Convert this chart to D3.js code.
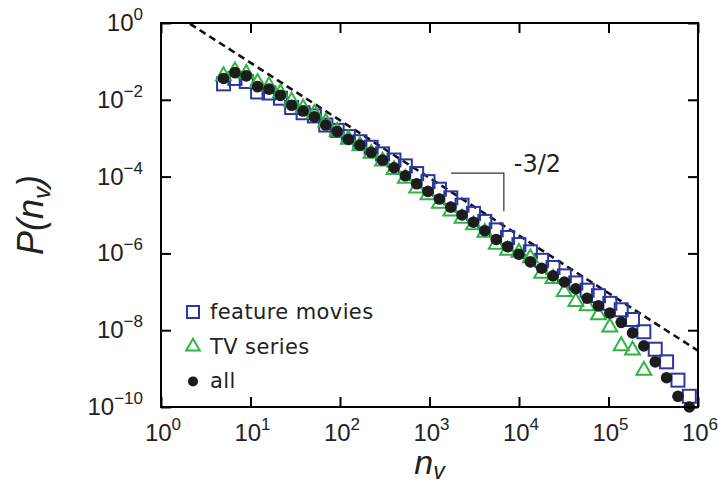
<!DOCTYPE html>
<html>
<head>
<meta charset="utf-8">
<script src="https://cdn.jsdelivr.net/npm/d3@7"></script>
<style>
  body { margin: 0; background: #fff; }
  text { fill: #222; }
</style>
</head>
<body>
<div id="chart"></div>
<script>
// bin centres (n_v) shared by all three series
var nv = [5.0, 6.7, 8.97, 12.0, 16.1, 21.6, 28.8, 38.7, 51.8, 69.4,
  92.9, 124, 167, 223, 299, 401, 537, 719, 962, 1290,
  1730, 2310, 3100, 4150, 5560, 7450, 9980, 13400, 17900, 24000,
  32100, 43100, 57700, 77300, 103500, 138700, 185500, 248300, 332700, 445700,
  597000, 800000];

// feature movies (squares)
var pMovies = [2.6e-2, 3.6e-2, 3.0e-2, 1.6e-2, 1.5e-2, 1.1e-2, 6.3e-3, 4.6e-3, 3.8e-3, 2.2e-3,
  1.6e-3, 1.1e-3, 8.1e-4, 5.8e-4, 3.9e-4, 2.7e-4, 1.9e-4, 1.2e-4, 7.4e-5, 4.7e-5,
  2.8e-5, 1.8e-5, 1.1e-5, 6.8e-6, 4.1e-6, 2.6e-6, 1.7e-6, 1.1e-6, 6.6e-7, 4.3e-7,
  2.6e-7, 1.7e-7, 1.1e-7, 7.9e-8, 5.0e-8, 3.4e-8, 1.9e-8, 9.1e-9, 3.2e-9, 1.5e-9,
  5.0e-10, 1.9e-10];

// TV series (triangles), first 38 bins only
var pTV = [4.2e-2, 5.6e-2, 4.8e-2, 2.8e-2, 2.3e-2, 1.5e-2, 9.1e-3, 6.0e-3, 4.4e-3, 2.6e-3,
  1.5e-3, 9.3e-4, 6.3e-4, 4.0e-4, 2.5e-4, 1.5e-4, 8.9e-5, 5.0e-5, 3.3e-5, 2.0e-5,
  1.26e-5, 8.1e-6, 5.5e-6, 3.5e-6, 1.7e-6, 1.2e-6, 1.05e-6, 7.6e-7, 3.0e-7, 2.2e-7,
  1.0e-7, 5.5e-8, 4.3e-8, 2.5e-8, 1.2e-8, 3.9e-9, 3.0e-9, 8.9e-10];

// all (filled circles)
var pAll = [3.6e-2, 5.1e-2, 4.2e-2, 2.2e-2, 1.9e-2, 1.3e-2, 7.2e-3, 5.1e-3, 3.6e-3, 2.2e-3,
  1.5e-3, 9.3e-4, 6.6e-4, 4.3e-4, 2.7e-4, 1.7e-4, 1.05e-4, 6.5e-5, 4.1e-5, 2.6e-5,
  1.6e-5, 1.0e-5, 6.5e-6, 3.9e-6, 2.3e-6, 1.5e-6, 9.5e-7, 6.0e-7, 4.1e-7, 2.6e-7,
  1.8e-7, 1.2e-7, 6.8e-8, 4.3e-8, 2.8e-8, 1.6e-8, 8.5e-9, 3.9e-9, 1.5e-9, 5.8e-10,
  1.9e-10, 1.0e-10];

var xTicks = [0, 1, 2, 3, 4, 5, 6];        // exponents of 10
var yTicks = [0, -2, -4, -6, -8, -10];
var legendNames = ["feature movies", "TV series", "all"];

// power-law guide P ~ n^(-3/2)
var guideSlope = -1.5, guideAmp = 2.92;
var bracketX = [1740, 6770], bracketY = [1.23e-4, 1.26e-5];

var W = 718, H = 486;
var margin = {top: 23, right: 20, bottom: 79, left: 161};
var width = W - margin.left - margin.right,
    height = H - margin.top - margin.bottom;

var svg = d3.select("#chart").append("svg")
  .attr("width", W).attr("height", H);

var g = svg.append("g")
  .attr("transform", "translate(" + margin.left + "," + margin.top + ")");

var x = d3.scaleLog().domain([1, 1e6]).range([0, width]);
var y = d3.scaleLog().domain([1e-10, 1]).range([height, 0]);

svg.append("defs").append("clipPath").attr("id", "clip")
  .append("rect").attr("width", width).attr("height", height);

// dashed guide line
var guide = [1, 1e6].map(function(n) { return [n, guideAmp * Math.pow(n, guideSlope)]; });
g.append("path")
  .attr("clip-path", "url(#clip)")
  .attr("d", d3.line().x(d => x(d[0])).y(d => y(d[1]))(guide))
  .attr("fill", "none")
  .attr("stroke", "#111")
  .attr("stroke-width", 2.6)
  .attr("stroke-dasharray", "7,4.5");

// slope bracket
g.append("path")
  .attr("d", "M" + x(bracketX[0]) + "," + y(bracketY[0]) +
             "H" + x(bracketX[1]) + "V" + y(bracketY[1]))
  .attr("fill", "none").attr("stroke", "#333").attr("stroke-width", 1.2);
g.append("text")
  .attr("x", x(bracketX[1]) + 10).attr("y", y(bracketY[0]) - 1)
  .style("font-family", "DejaVu Sans, sans-serif")
  .style("font-size", "24px")
  .text("-3/2");

var blue = "#2c37a0", green = "#2db443", black = "#1c1c1c";
var sq = 13;

// squares
g.selectAll(".sq").data(pMovies).enter().append("rect")
  .attr("x", (d, i) => x(nv[i]) - sq / 2)
  .attr("y", d => y(d) - sq / 2)
  .attr("width", sq).attr("height", sq)
  .attr("fill", "none").attr("stroke", blue).attr("stroke-width", 2);

// triangles
var tri = d3.symbol().type(d3.symbolTriangle).size(95);
g.selectAll(".tri").data(pTV).enter().append("path")
  .attr("d", tri)
  .attr("transform", (d, i) => "translate(" + x(nv[i]) + "," + y(d) + ")")
  .attr("fill", "none").attr("stroke", green).attr("stroke-width", 2);

// circles
g.selectAll(".dot").data(pAll).enter().append("circle")
  .attr("cx", (d, i) => x(nv[i]))
  .attr("cy", d => y(d))
  .attr("r", 5.8)
  .attr("fill", black);

// frame
g.append("rect").attr("width", width).attr("height", height)
  .attr("fill", "none").attr("stroke", "#000").attr("stroke-width", 2);

// inward ticks on all four sides
var tk = 10;
g.append("g").attr("transform", "translate(0," + height + ")")
  .call(d3.axisBottom(x).tickValues(xTicks.map(e => Math.pow(10, e))).tickSize(-tk).tickFormat(""))
  .call(a => a.select(".domain").remove())
  .selectAll("line").attr("stroke-width", 2);
g.append("g")
  .call(d3.axisTop(x).tickValues(xTicks.map(e => Math.pow(10, e))).tickSize(-tk).tickFormat(""))
  .call(a => a.select(".domain").remove())
  .selectAll("line").attr("stroke-width", 2);
g.append("g")
  .call(d3.axisLeft(y).tickValues(yTicks.map(e => Math.pow(10, e))).tickSize(-tk).tickFormat(""))
  .call(a => a.select(".domain").remove())
  .selectAll("line").attr("stroke-width", 2);
g.append("g").attr("transform", "translate(" + width + ",0)")
  .call(d3.axisRight(y).tickValues(yTicks.map(e => Math.pow(10, e))).tickSize(-tk).tickFormat(""))
  .call(a => a.select(".domain").remove())
  .selectAll("line").attr("stroke-width", 2);

var labFont = "Liberation Sans, Arial, sans-serif";

function powLabel(sel, e) {
  sel.append("tspan").text("10");
  sel.append("tspan").attr("dy", -11).style("font-size", "17px")
    .text(e < 0 ? "\u2212" + (-e) : e);
}

xTicks.forEach(function(e) {
  var t = g.append("text")
    .attr("x", x(Math.pow(10, e)) + 2)
    .attr("y", height + 34)
    .attr("text-anchor", "middle")
    .style("font-family", labFont).style("font-size", "24px");
  powLabel(t, e);
});

yTicks.forEach(function(e) {
  var t = g.append("text")
    .attr("x", -18)
    .attr("y", y(Math.pow(10, e)) + 8)
    .attr("text-anchor", "end")
    .style("font-family", labFont).style("font-size", "24px");
  powLabel(t, e);
});

// axis titles
var xt = g.append("text")
  .attr("x", width / 2).attr("y", height + 67)
  .attr("text-anchor", "middle")
  .style("font-family", labFont).style("font-size", "34px").style("font-style", "italic");
xt.append("tspan").text("n");
xt.append("tspan").attr("dy", 5).style("font-size", "23px").text("v");

var yt = g.append("text")
  .attr("transform", "translate(" + (43 - margin.left) + "," + (215 - margin.top) + ") rotate(-90)")
  .attr("text-anchor", "middle")
  .style("font-family", labFont).style("font-size", "36px").style("font-style", "italic");
yt.append("tspan").text("P(n");
yt.append("tspan").attr("dy", 7).style("font-size", "24px").text("v");
yt.append("tspan").attr("dy", -7).text(")");

// legend
var leg = g.append("g").attr("transform", "translate(32,289)");
legendNames.forEach(function(name, i) {
  var row = leg.append("g").attr("transform", "translate(0," + (i * 34.7) + ")");
  if (i === 0) {
    row.append("rect").attr("x", -6).attr("y", -6).attr("width", 12).attr("height", 12)
      .attr("fill", "none").attr("stroke", blue).attr("stroke-width", 2);
  } else if (i === 1) {
    row.append("path").attr("d", d3.symbol().type(d3.symbolTriangle).size(80))
      .attr("fill", "none").attr("stroke", green).attr("stroke-width", 2);
  } else {
    row.append("circle").attr("r", 5).attr("fill", black);
  }
  row.append("text").attr("x", 17).attr("y", 7)
    .style("font-family", "DejaVu Sans, sans-serif").style("font-size", "21px")
    .style("letter-spacing", "0.4px")
    .text(name);
});
</script>
</body>
</html>
